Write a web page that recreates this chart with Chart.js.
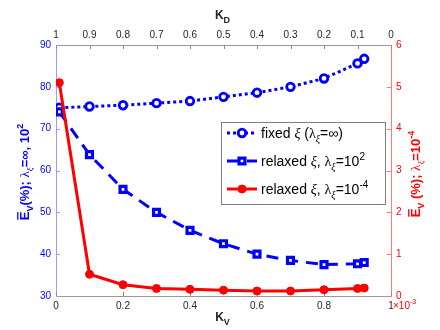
<!DOCTYPE html>
<html>
<head>
<meta charset="utf-8">
<script src="https://cdn.jsdelivr.net/npm/chart.js@4.4.0/dist/chart.umd.min.js"></script>
<style>
  html, body { margin: 0; padding: 0; background: #fff; }
</style>
</head>
<body>
<canvas id="chart" width="440" height="330"></canvas>
<script>
// datos
const kv = [0.01, 0.1, 0.2, 0.3, 0.4, 0.5, 0.6, 0.7, 0.8, 0.9, 0.92];
const fixedXi = [75.0, 75.3, 75.6, 76.1, 76.6, 77.6, 78.6, 80.0, 82.0, 85.6, 86.7];
const relaxed1e2 = [74.0, 63.8, 55.5, 50.0, 45.7, 42.5, 40.0, 38.5, 37.5, 37.7, 38.0];
const relaxed1em4 = [5.10, 0.52, 0.27, 0.18, 0.16, 0.14, 0.12, 0.12, 0.15, 0.18, 0.19];

const BLUE = '#0000ff';
const RED = '#ff0000';
const SANS = '"Liberation Sans", Arial, Helvetica, sans-serif';
const SERIF = '"Liberation Serif", "Times New Roman", serif';

function toPoints(ys) {
  return kv.map((x, i) => ({ x: x, y: ys[i] }));
}

function fmtTick(v) {
  if (Math.abs(v) < 1e-9) return '0';
  if (Math.abs(v - 1) < 1e-9) return '1';
  return v.toFixed(1);
}

// texto con subindices / superindices
function segFont(s, size, bold) {
  if (s.sym) return (s.it ? 'italic ' : '') + size + 'px ' + SERIF;
  return (bold ? 'bold ' : '') + size + 'px ' + SANS;
}

function drawRich(ctx, segs, x, y, size, color, bold, rot, align) {
  ctx.save();
  ctx.translate(x, y);
  ctx.rotate(rot || 0);
  ctx.fillStyle = color;
  ctx.textBaseline = 'alphabetic';
  ctx.textAlign = 'left';
  const items = segs.map(s => {
    const sz = (s.sub || s.sup) ? Math.round(size * 0.72) : size;
    const f = segFont(s, sz, bold);
    ctx.font = f;
    return { s: s, f: f, w: ctx.measureText(s.t).width };
  });
  const total = items.reduce((a, b) => a + b.w, 0);
  let cx = align === 'center' ? -total / 2 : 0;
  const base = size * 0.36;
  items.forEach(it => {
    ctx.font = it.f;
    let dy = base;
    if (it.s.sub) dy += size * 0.3;
    if (it.s.sup) dy -= size * 0.45;
    ctx.fillText(it.s.t, cx, dy);
    if (it.s.bar) {
      ctx.fillRect(cx + 0.5, base - size * 0.72 - 2.2, it.w - 1, 1.3);
    }
    cx += it.w;
  });
  ctx.restore();
}

const leftLabel = [
  { t: 'E', bar: true }, { t: 'V', sub: true }, { t: '(%); ' },
  { t: 'λ', sym: true }, { t: 'ξ', sym: true, it: true, sub: true },
  { t: '=∞, 10' }, { t: '2', sup: true }
];
const rightLabel = [
  { t: 'E', bar: true }, { t: 'V', sub: true }, { t: ' (%); ' },
  { t: 'λ', sym: true }, { t: 'ξ', sym: true, it: true, sub: true },
  { t: '=10' }, { t: '-4', sup: true }
];
const legendItems = [
  [{ t: 'fixed ' }, { t: 'ξ', sym: true, it: true }, { t: ' (' }, { t: 'λ', sym: true },
   { t: 'ξ', sym: true, it: true, sub: true }, { t: '=∞)' }],
  [{ t: 'relaxed ' }, { t: 'ξ', sym: true, it: true }, { t: ', ' }, { t: 'λ', sym: true },
   { t: 'ξ', sym: true, it: true, sub: true }, { t: '=10' }, { t: '2', sup: true }],
  [{ t: 'relaxed ' }, { t: 'ξ', sym: true, it: true }, { t: ', ' }, { t: 'λ', sym: true },
   { t: 'ξ', sym: true, it: true, sub: true }, { t: '=10' }, { t: '-4', sup: true }]
];

const adornos = {
  id: 'adornos',
  beforeDatasetsDraw(chart) {
    // marcas de eje hacia dentro (estilo MATLAB)
    const ctx = chart.ctx;
    const a = chart.chartArea;
    const L = 4;
    ctx.save();
    ctx.lineWidth = 1;
    const sx = chart.scales.x, sx2 = chart.scales.x2, sy = chart.scales.y, sy2 = chart.scales.y2;
    ctx.strokeStyle = '#8c8c8c';
    sx.ticks.forEach(t => {
      const p = Math.round(sx.getPixelForValue(t.value)) + 0.5;
      ctx.beginPath(); ctx.moveTo(p, a.bottom); ctx.lineTo(p, a.bottom - L); ctx.stroke();
    });
    sx2.ticks.forEach(t => {
      const p = Math.round(sx2.getPixelForValue(t.value)) + 0.5;
      ctx.beginPath(); ctx.moveTo(p, a.top); ctx.lineTo(p, a.top + L); ctx.stroke();
    });
    ctx.strokeStyle = '#9a9aff';
    sy.ticks.forEach(t => {
      const p = Math.round(sy.getPixelForValue(t.value)) + 0.5;
      ctx.beginPath(); ctx.moveTo(a.left, p); ctx.lineTo(a.left + L, p); ctx.stroke();
    });
    ctx.strokeStyle = '#ff7a7a';
    sy2.ticks.forEach(t => {
      const p = Math.round(sy2.getPixelForValue(t.value)) + 0.5;
      ctx.beginPath(); ctx.moveTo(a.right, p); ctx.lineTo(a.right - L, p); ctx.stroke();
    });
    ctx.restore();
  },
  afterDraw(chart) {
    const ctx = chart.ctx;
    const a = chart.chartArea;
    const cxm = (a.left + a.right) / 2;

    // titulos de ejes
    drawRich(ctx, [{ t: 'K' }, { t: 'D', sub: true }], cxm - 1, 15, 12, '#262626', true, 0, 'center');
    drawRich(ctx, [{ t: 'K' }, { t: 'V', sub: true }], cxm - 1, 317, 12, '#262626', true, 0, 'center');
    drawRich(ctx, leftLabel, 24, 172, 13, BLUE, true, -Math.PI / 2, 'center');
    drawRich(ctx, rightLabel, 415, 174, 13, RED, true, -Math.PI / 2, 'center');
    drawRich(ctx, [{ t: '×10' }, { t: '-3', sup: true }], a.right + 2, 305, 10, RED, false, 0, 'left');

    // leyenda
    const bx = 221, by = 122, bw = 164, bh = 82;
    ctx.save();
    ctx.fillStyle = '#fff';
    ctx.fillRect(bx, by, bw, bh);
    ctx.strokeStyle = '#7f7f7f';
    ctx.lineWidth = 1;
    ctx.strokeRect(bx + 0.5, by + 0.5, bw, bh);
    const rows = [133, 161, 189];
    chart.data.datasets.forEach((ds, i) => {
      const y = rows[ds.legendRow];
      ctx.save();
      ctx.strokeStyle = ds.borderColor;
      ctx.lineWidth = ds.borderWidth;
      ctx.setLineDash(ds.borderDash || []);
      ctx.beginPath(); ctx.moveTo(227, y); ctx.lineTo(257, y); ctx.stroke();
      ctx.setLineDash([]);
      ctx.fillStyle = ds.pointBackgroundColor;
      ctx.strokeStyle = ds.borderColor;
      ctx.lineWidth = ds.pointBorderWidth;
      Chart.helpers.drawPoint(ctx, {
        pointStyle: ds.pointStyle, radius: ds.pointRadius, rotation: 0,
        borderWidth: ds.pointBorderWidth
      }, 242, y);
      ctx.restore();
      drawRich(ctx, legendItems[ds.legendRow], 261, y, 14, '#000', false, 0, 'left');
    });
    ctx.restore();
  }
};

new Chart(document.getElementById('chart'), {
  type: 'line',
  data: {
    datasets: [
      {
        label: 'relaxed xi, lambda=1e-4',
        legendRow: 2,
        data: toPoints(relaxed1em4),
        yAxisID: 'y2',
        xAxisID: 'x',
        borderColor: RED,
        borderWidth: 3,
        pointStyle: 'circle',
        pointRadius: 4,
        pointBorderWidth: 1,
        pointBackgroundColor: RED,
        order: 0
      },
      {
        label: 'relaxed xi, lambda=1e2',
        legendRow: 1,
        data: toPoints(relaxed1e2),
        yAxisID: 'y',
        xAxisID: 'x',
        borderColor: BLUE,
        borderWidth: 3,
        borderDash: [12, 8],
        pointStyle: 'rect',
        pointRadius: 4.2,
        pointBorderWidth: 3.2,
        pointBackgroundColor: '#fff',
        order: 1
      },
      {
        label: 'fixed xi',
        legendRow: 0,
        data: toPoints(fixedXi),
        yAxisID: 'y',
        xAxisID: 'x',
        borderColor: BLUE,
        borderWidth: 3,
        borderDash: [3, 3],
        pointStyle: 'circle',
        pointRadius: 3.8,
        pointBorderWidth: 2.8,
        pointBackgroundColor: '#fff',
        order: 2
      }
    ]
  },
  options: {
    responsive: false,
    animation: false,
    layout: { padding: 0 },
    plugins: {
      legend: { display: false },
      tooltip: { enabled: false }
    },
    elements: { line: { tension: 0, borderCapStyle: 'butt' } },
    scales: {
      x: {
        type: 'linear',
        position: 'bottom',
        min: 0, max: 1,
        grid: { drawOnChartArea: false, drawTicks: false, tickLength: 0 },
        border: { color: '#999999', width: 1 },
        ticks: { stepSize: 0.2, padding: 4, color: '#262626', maxRotation: 0,
                 font: { family: SANS, size: 10 }, callback: fmtTick },
        afterFit(s) { s.height = 34; }
      },
      x2: {
        type: 'linear',
        position: 'top',
        min: 0, max: 1,
        reverse: true,
        grid: { drawOnChartArea: false, drawTicks: false, tickLength: 0 },
        border: { color: '#999999', width: 1 },
        ticks: { stepSize: 0.1, padding: 4, color: '#262626', maxRotation: 0, autoSkip: false,
                 font: { family: SANS, size: 10 }, callback: fmtTick },
        afterFit(s) { s.height = 45; }
      },
      y: {
        type: 'linear',
        position: 'left',
        min: 30, max: 90,
        grid: { drawOnChartArea: false, drawTicks: false, tickLength: 0 },
        border: { color: '#9a9aff', width: 1 },
        ticks: { stepSize: 10, padding: 5, color: BLUE, font: { family: SANS, size: 10 } },
        afterFit(s) { s.width = 56; }
      },
      y2: {
        type: 'linear',
        position: 'right',
        min: 0, max: 6,
        grid: { drawOnChartArea: false, drawTicks: false, tickLength: 0 },
        border: { color: '#ff7a7a', width: 1 },
        ticks: { stepSize: 1, padding: 5, color: RED, font: { family: SANS, size: 10 } },
        afterFit(s) { s.width = 49; }
      }
    }
  },
  plugins: [adornos]
});
</script>
</body>
</html>
